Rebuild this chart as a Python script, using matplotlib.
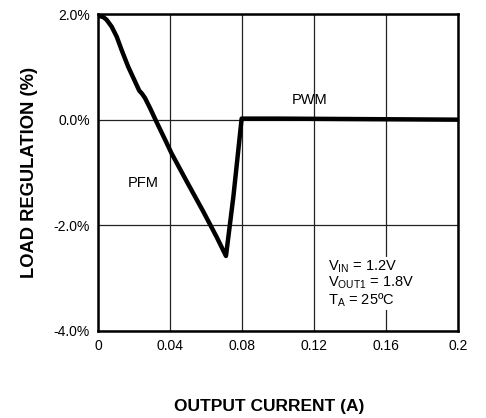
import matplotlib
matplotlib.use("Agg")
import matplotlib.pyplot as plt

plt.rcParams['font.family'] = ['Liberation Sans', 'DejaVu Sans']

current = [0.0, 0.0011, 0.0030, 0.0048, 0.0076, 0.0104, 0.0131, 0.0168, 0.0206,
           0.0229, 0.0245, 0.0261, 0.0289, 0.0326, 0.0370, 0.0409, 0.0493, 0.0585,
           0.0659, 0.0711, 0.0752, 0.0798, 0.100, 0.150, 0.200]
regulation = [1.96, 1.96, 1.94, 1.89, 1.76, 1.57, 1.32, 1.00, 0.72,
              0.55, 0.49, 0.41, 0.22, -0.05, -0.36, -0.64, -1.17, -1.74,
              -2.22, -2.58, -1.46, 0.02, 0.02, 0.01, 0.0]

xticks = [0, 0.04, 0.08, 0.12, 0.16, 0.2]
xticklabels = ['0', '0.04', '0.08', '0.12', '0.16', '0.2']
yticks = [-4, -2, 0, 2]
yticklabels = ['-4.0%', '-2.0%', '0.0%', '2.0%']

fig = plt.figure(figsize=(4.86, 4.18), dpi=100)
ax = fig.add_axes([98/486, 1-331/418, 360/486, 317/418])
ax.plot(current, regulation, color='black', lw=3.2, solid_joinstyle='round',
        solid_capstyle='round', zorder=3)
ax.set_xlim(0, 0.2)
ax.set_ylim(-4, 2)
ax.set_xticks(xticks)
ax.set_xticklabels(xticklabels, fontsize=10)
ax.set_yticks(yticks)
ax.set_yticklabels(yticklabels, fontsize=10)
ax.tick_params(length=0, pad=6)
ax.grid(True, color='#222222', lw=0.9)
for s in ax.spines.values():
    s.set_linewidth(1.8)

ax.text(0.1173, 0.37, 'PWM', fontsize=10.5, ha='center', va='center')
ax.text(0.0253, -1.19, 'PFM', fontsize=10.5, ha='center', va='center')
ax.text(0.1275, -2.63, '$\\mathregular{V_{IN}}$ = 1.2V\n$\\mathregular{V_{OUT1}}$ = 1.8V\n$\\mathregular{T_A}$ = 25ºC',
        fontsize=10.5, ha='left', va='top', linespacing=1.0,
        bbox=dict(facecolor='white', edgecolor='none', pad=1))

fig.text(269/486, 1-406/418, 'OUTPUT CURRENT (A)', fontsize=12.5, fontweight='bold', ha='center', va='center')
fig.text(30/486, 1-172/418, 'LOAD REGULATION (%)', fontsize=13.2, fontweight='bold', ha='center', va='center', rotation=90)

fig.savefig('out.png', dpi=100)
